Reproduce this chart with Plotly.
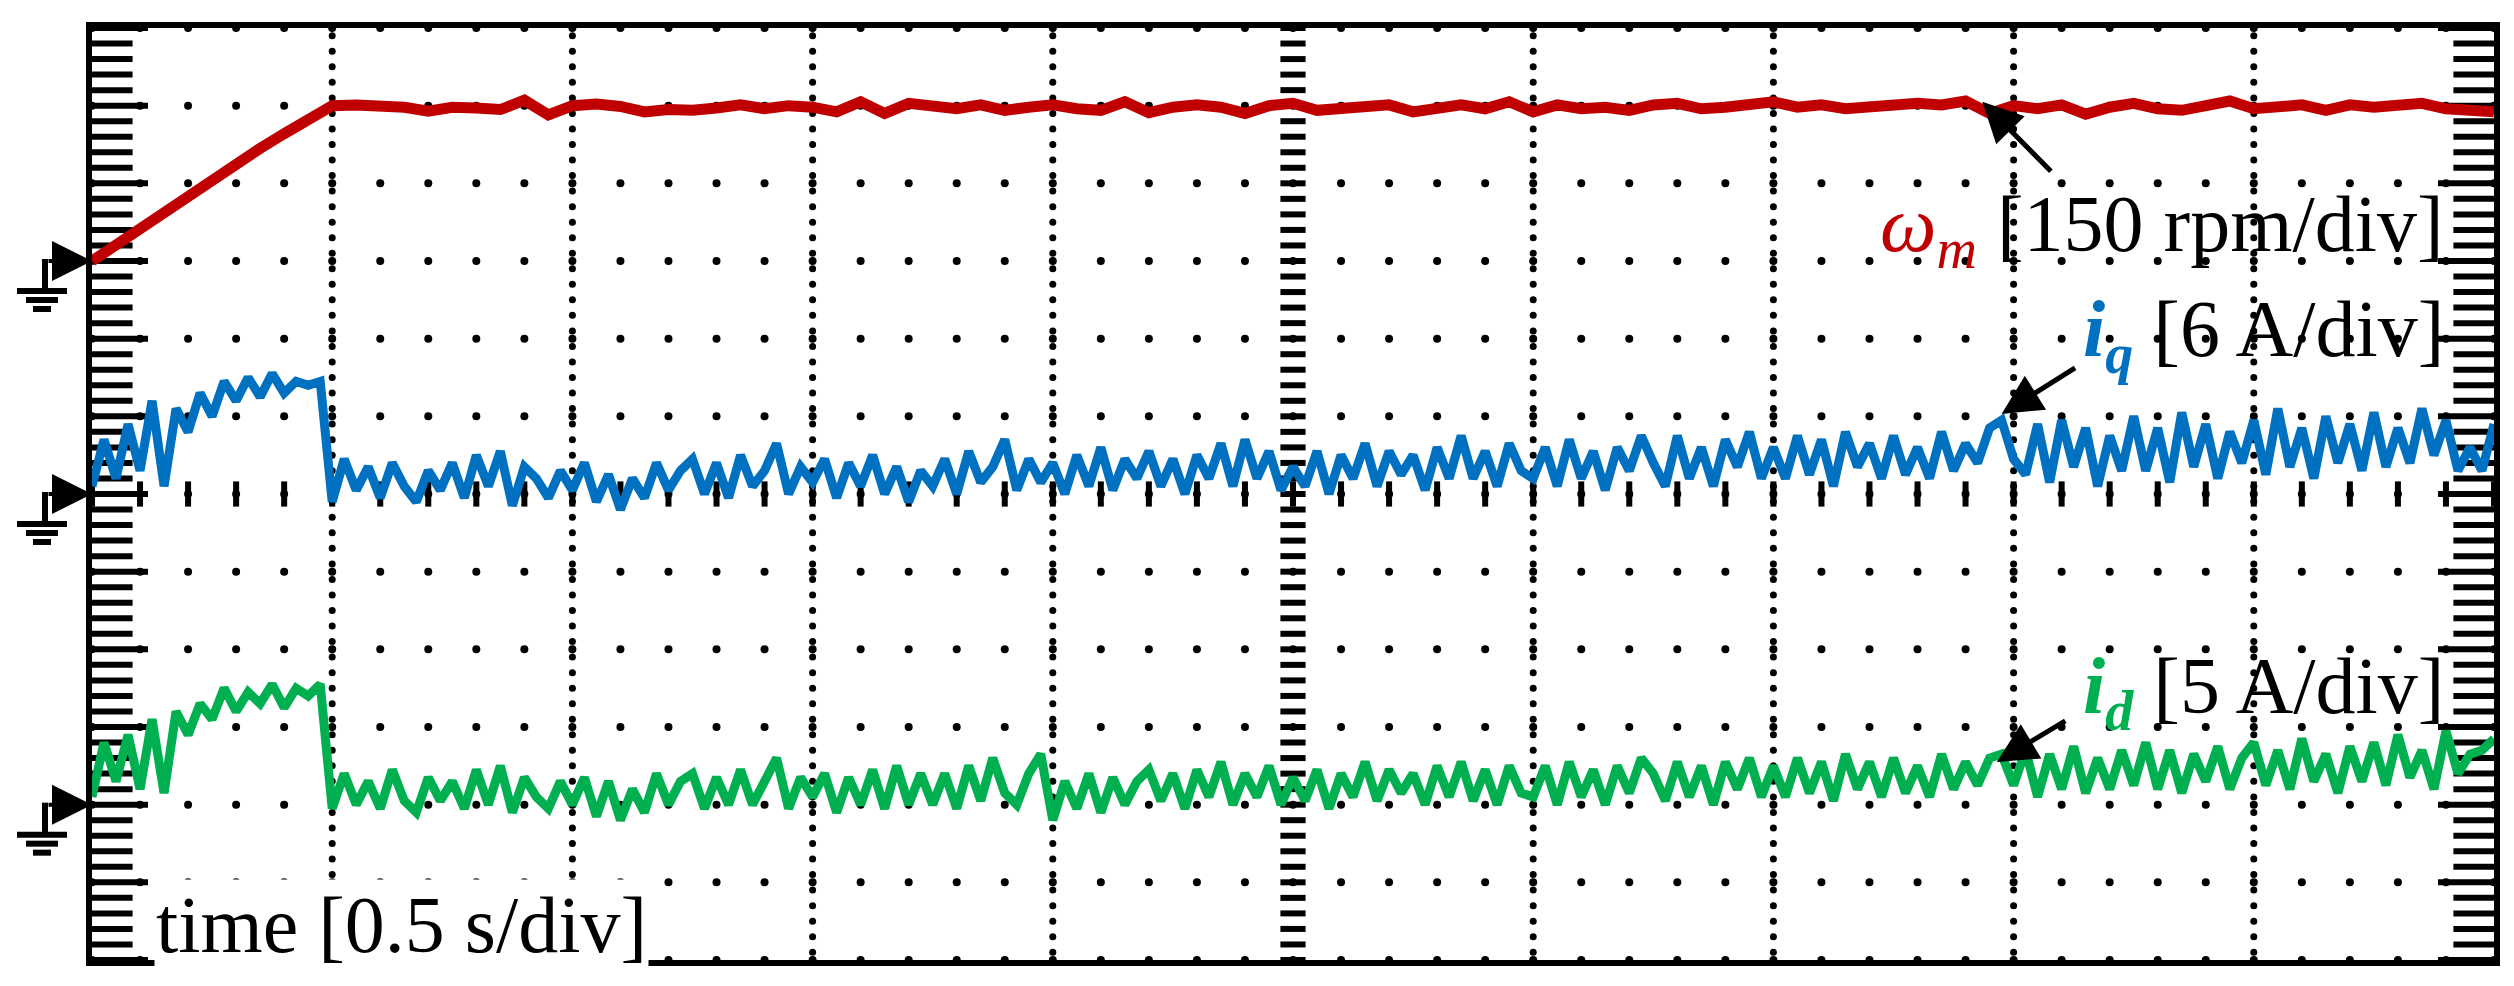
import numpy as np
import plotly.graph_objects as go

# scope screen: 10 x 12 divisions, traces in div units above their ground marker
GND_W, GND_IQ, GND_ID = 9, 6, 2

t_w = [round(0.1 * k, 2) for k in range(101)]
w_m = [0, 0.21, 0.43, 0.64, 0.85, 1.05, 1.25, 1.45, 1.64, 1.83, 2.0,
       2.01, 2.0, 1.98, 1.93, 1.98, 1.97, 1.95, 2.07, 1.88, 2.0,
       2.02, 1.99, 1.92, 1.95, 1.94, 1.97, 2.01, 1.96, 2.0, 1.98,
       1.92, 2.05, 1.9, 2.03, 1.98, 1.96, 2.01, 1.94, 1.98, 2.01,
       1.96, 1.94, 2.05, 1.91, 1.98, 2.01, 1.98, 1.9, 2.0, 2.03,
       1.94, 1.96, 1.98, 2.01, 1.92, 1.98, 2.01, 1.96, 2.05, 1.92,
       2.01, 1.96, 1.98, 1.94, 2.01, 2.03, 1.96, 1.98, 2.01, 2.05,
       1.98, 2.01, 1.96, 1.98, 2.0, 2.03, 2.01, 2.06, 1.9, 2.0,
       1.96, 2.01, 1.89, 1.98, 2.03, 1.96, 1.94, 2.01, 2.06, 1.96,
       1.98, 2.01, 1.94, 2.01, 1.98, 2.0, 2.03, 1.96, 1.94, 1.92]

t_i = [round(0.05 * k, 3) for k in range(201)]
i_q = [0.1, 0.7, 0.2, 0.9, 0.3, 1.2, 0.1, 1.1, 0.8, 1.3, 1.0, 1.45, 1.2, 1.5, 1.25, 1.55, 1.3, 1.45, 1.4, 1.45,
       -0.1, 0.45, 0.05, 0.35, -0.05, 0.4, 0.1, -0.1, 0.3, 0.05,
       0.4, -0.05, 0.5, 0.1, 0.55, -0.15, 0.35, 0.2, -0.05, 0.3,
       0.05, 0.4, -0.1, 0.25, -0.2, 0.2, -0.05, 0.4, 0.05, 0.3,
       0.45, 0.0, 0.4, -0.05, 0.5, 0.1, 0.3, 0.65, 0.0, 0.35,
       0.15, 0.45, -0.05, 0.4, 0.1, 0.5, 0.0, 0.35, -0.1, 0.3,
       0.1, 0.45, 0.0, 0.55, 0.15, 0.35, 0.7, 0.05, 0.45, 0.15,
       0.4, 0.0, 0.5, 0.1, 0.6, 0.05, 0.45, 0.2, 0.55, 0.1,
       0.45, 0.0, 0.5, 0.2, 0.65, 0.1, 0.7, 0.2, 0.55, 0.05,
       0.35, 0.1, 0.55, 0.0, 0.5, 0.2, 0.65, 0.1, 0.55, 0.25,
       0.5, 0.05, 0.6, 0.2, 0.75, 0.2, 0.55, 0.1, 0.65, 0.3,
       0.2, 0.6, 0.1, 0.7, 0.2, 0.55, 0.05, 0.6, 0.3, 0.75,
       0.4, 0.1, 0.75, 0.2, 0.6, 0.1, 0.7, 0.35, 0.8, 0.2,
       0.6, 0.2, 0.75, 0.25, 0.7, 0.1, 0.8, 0.35, 0.65, 0.2,
       0.75, 0.25, 0.6, 0.2, 0.8, 0.3, 0.65, 0.4, 0.85, 0.95,
       0.45, 0.25, 0.9, 0.15, 0.95, 0.35, 0.85, 0.1, 0.75, 0.3,
       1.0, 0.3, 0.85, 0.15, 1.05, 0.35, 0.9, 0.2, 0.8, 0.4,
       0.95, 0.25, 1.1, 0.35, 0.85, 0.2, 1.0, 0.4, 0.9, 0.3,
       1.05, 0.35, 0.85, 0.4, 1.1, 0.5, 0.95, 0.3, 0.6, 0.3,
       0.9]
i_d = [0.1, 0.8, 0.3, 0.9, 0.2, 1.1, 0.15, 1.2, 0.9, 1.3, 1.1, 1.5, 1.2, 1.45, 1.3, 1.55, 1.25, 1.5, 1.4, 1.55,
       -0.05, 0.4, 0.0, 0.3, -0.05, 0.45, 0.05, -0.1, 0.35, 0.05,
       0.3, -0.05, 0.45, 0.0, 0.5, -0.1, 0.35, 0.1, -0.05, 0.3,
       0.0, 0.35, -0.15, 0.3, -0.2, 0.2, -0.1, 0.4, 0.0, 0.3,
       0.4, -0.05, 0.35, 0.0, 0.45, 0.0, 0.3, 0.6, -0.05, 0.35,
       0.1, 0.4, -0.1, 0.35, 0.0, 0.45, -0.05, 0.5, 0.0, 0.4,
       0.0, 0.4, -0.05, 0.5, 0.05, 0.6, 0.15, 0.0, 0.4, 0.65,
       -0.2, 0.3, -0.05, 0.4, -0.1, 0.35, 0.0, 0.3, 0.45, 0.05,
       0.4, -0.05, 0.45, 0.1, 0.55, 0.0, 0.4, 0.1, 0.5, 0.0,
       0.35, 0.05, 0.45, -0.05, 0.4, 0.1, 0.55, 0.05, 0.45, 0.15,
       0.4, 0.0, 0.5, 0.1, 0.55, 0.05, 0.45, 0.0, 0.5, 0.15,
       0.1, 0.5, 0.0, 0.55, 0.1, 0.45, 0.0, 0.5, 0.15, 0.6,
       0.4, 0.05, 0.55, 0.1, 0.5, 0.0, 0.55, 0.2, 0.6, 0.1,
       0.5, 0.1, 0.6, 0.15, 0.55, 0.05, 0.65, 0.2, 0.55, 0.1,
       0.6, 0.15, 0.5, 0.1, 0.65, 0.2, 0.55, 0.25, 0.6, 0.65,
       0.25, 0.7, 0.1, 0.65, 0.2, 0.75, 0.15, 0.6, 0.2, 0.7,
       0.25, 0.8, 0.2, 0.7, 0.15, 0.65, 0.3, 0.75, 0.2, 0.6,
       0.8, 0.25, 0.7, 0.2, 0.85, 0.3, 0.65, 0.15, 0.75, 0.3,
       0.8, 0.25, 0.9, 0.35, 0.7, 0.2, 0.95, 0.4, 0.65, 0.7,
       0.85]

RED, BLUE, GREEN = "#c00000", "#0070c0", "#00b050"
W, H = 2514, 986
L, R, T, B = 84, 28, 20, 34
pw, ph = W - L - R, H - T - B

fig = go.Figure()

# screen graticule: dot rows, dotted division lines, tick marks
dx = [round(0.2 * k, 2) for k in range(51)]
gx, gy = [], []
for yy in range(0, 13):
    gx += dx
    gy += [yy] * len(dx)
fig.add_trace(go.Scatter(x=gx, y=gy, mode="markers", hoverinfo="skip",
                         marker=dict(size=8, color="black")))
vx, vy = [], []
for xx in [1, 2, 3, 4, 6, 7, 8, 9]:
    ys = list(np.arange(0.1, 12, 0.2))
    vx += [xx] * len(ys)
    vy += ys
fig.add_trace(go.Scatter(x=vx, y=vy, mode="markers", hoverinfo="skip",
                         marker=dict(size=7, color="black")))

ty = list(np.arange(0, 12.001, 0.2))
major_y = [v for v in ty if abs(v - round(v)) < 1e-6]
minor_y = [v for v in ty if abs(v - round(v)) >= 1e-6]
for xx in [0, 10]:
    fig.add_trace(go.Scatter(x=[xx] * len(minor_y), y=minor_y, mode="markers", hoverinfo="skip",
                             marker=dict(symbol="line-ew", size=58, line=dict(width=6, color="black"))))
    fig.add_trace(go.Scatter(x=[xx] * len(major_y), y=major_y, mode="markers", hoverinfo="skip",
                             marker=dict(symbol="line-ew", size=80, line=dict(width=6, color="black"))))
fig.add_trace(go.Scatter(x=[5] * len(ty), y=ty, mode="markers", hoverinfo="skip",
                         marker=dict(symbol="line-ew", size=18, line=dict(width=6, color="black"))))
tx = list(np.arange(0, 10.001, 0.2))
fig.add_trace(go.Scatter(x=tx, y=[6] * len(tx), mode="markers", hoverinfo="skip",
                         marker=dict(symbol="line-ns", size=18, line=dict(width=6, color="black"))))

# traces
fig.add_trace(go.Scatter(x=t_w, y=[GND_W + v for v in w_m], mode="lines",
                         line=dict(color=RED, width=11)))
fig.add_trace(go.Scatter(x=t_i, y=[GND_IQ + v for v in i_q], mode="lines",
                         line=dict(color=BLUE, width=9)))
fig.add_trace(go.Scatter(x=t_i, y=[GND_ID + v for v in i_d], mode="lines",
                         line=dict(color=GREEN, width=9)))


def px_x(p):
    return (p - L) / pw


def px_y(p):
    return (H - B - p) / ph


# ground markers on the left edge
shapes = []
anns = []
for lvl in [GND_W, GND_IQ, GND_ID]:
    yp = T + (12 - lvl) * ph / 12
    anns.append(dict(x=0, y=lvl, xref="x", yref="y", ax=-45, ay=0, showarrow=True,
                     arrowhead=2, arrowsize=2, arrowwidth=4, arrowcolor="black", text=""))
    line = dict(color="black", width=6)
    shapes.append(dict(type="line", xref="paper", yref="paper", x0=px_x(37), x1=px_x(37),
                       y0=px_y(yp - 2), y1=px_y(yp + 28), line=line))
    for k, hw in enumerate([25, 16, 9]):
        shapes.append(dict(type="line", xref="paper", yref="paper", x0=px_x(34 - hw), x1=px_x(34 + hw),
                           y0=px_y(yp + 30 + 9 * k), y1=px_y(yp + 30 + 9 * k), line=line))

font = dict(family="Liberation Serif", size=80, color="black")
anns += [
    dict(x=9.8, y=9.4, xref="x", yref="y", xanchor="right", yanchor="middle", showarrow=False, font=font,
         text=f"<span style='color:{RED}'><i>ω<sub>m</sub></i></span> [150 rpm/div]"),
    dict(x=9.8, y=8.05, xref="x", yref="y", xanchor="right", yanchor="middle", showarrow=False, font=font,
         text=f"<span style='color:{BLUE}'><b><i>i<sub>q</sub></i></b></span> [6 A/div]"),
    dict(x=9.8, y=3.45, xref="x", yref="y", xanchor="right", yanchor="middle", showarrow=False, font=font,
         text=f"<span style='color:{GREEN}'><b><i>i<sub>d</sub></i></b></span> [5 A/div]"),
    dict(x=0.26, y=0.45, xref="x", yref="y", xanchor="left", yanchor="middle", showarrow=False, font=font,
         text="time [0.5 s/div]", bgcolor="white"),
    dict(x=7.87, y=11.05, xref="x", yref="y", ax=70, ay=71, showarrow=True, arrowhead=2,
         arrowsize=1.6, arrowwidth=5, arrowcolor="black", text=""),
    dict(x=7.95, y=7.03, xref="x", yref="y", ax=75, ay=-47, showarrow=True, arrowhead=2,
         arrowsize=1.6, arrowwidth=5, arrowcolor="black", text=""),
    dict(x=7.93, y=2.55, xref="x", yref="y", ax=70, ay=-42, showarrow=True, arrowhead=2,
         arrowsize=1.6, arrowwidth=5, arrowcolor="black", text=""),
]

ax_common = dict(showgrid=False, zeroline=False, showticklabels=False, ticks="",
                 showline=True, mirror=True, linecolor="black", linewidth=6)
fig.update_layout(
    width=W, height=H, margin=dict(l=L, r=R, t=T, b=B),
    paper_bgcolor="white", plot_bgcolor="white", showlegend=False,
    xaxis=dict(range=[0, 10], **ax_common),
    yaxis=dict(range=[0, 12], **ax_common),
    shapes=shapes, annotations=anns,
)

fig.write_html("out.html")
